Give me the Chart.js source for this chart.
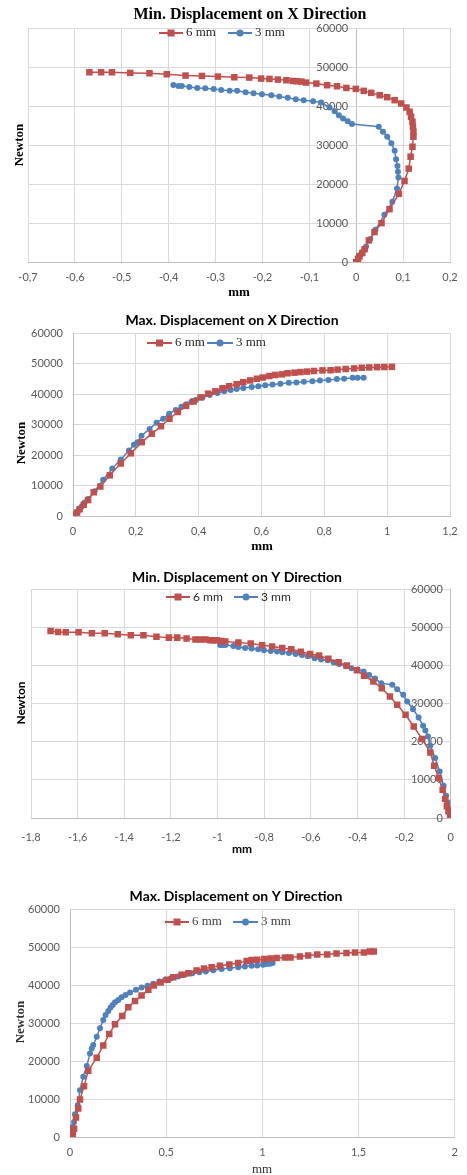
<!DOCTYPE html>
<html>
<head>
<meta charset="utf-8">
<script src="https://cdn.jsdelivr.net/npm/chart.js@4.4.0/dist/chart.umd.min.js"></script>
<style>
  html, body { margin: 0; padding: 0; background: #fff; }
  body { width: 467px; height: 1175px; position: relative; overflow: hidden; }
  .box { position: absolute; left: 0; width: 467px; }
</style>
</head>
<body>
<div class="box" style="top:0;height:300px"><canvas id="c1"></canvas></div>
<div class="box" style="top:300px;height:270px"><canvas id="c2"></canvas></div>
<div class="box" style="top:570px;height:300px"><canvas id="c3"></canvas></div>
<div class="box" style="top:870px;height:305px"><canvas id="c4"></canvas></div>
<script>
/* ===== DATA (mm , Newton) ===== */
const seriesLabels = ["6 mm", "3 mm"];
const forceTicks = [0, 10000, 20000, 30000, 40000, 50000, 60000];

// Min. displacement X
const minX_ticks = [-0.7, -0.6, -0.5, -0.4, -0.3, -0.2, -0.1, 0, 0.1, 0.2];
const minX_6_mm = [0, 0.004, 0.007, 0.013, 0.018, 0.027, 0.039, 0.054, 0.071, 0.091, 0.103, 0.112, 0.116, 0.120, 0.122, 0.122, 0.121, 0.120, 0.117, 0.114, 0.107, 0.096, 0.082, 0.066, 0.050, 0.032, 0.016, -0.001, -0.021, -0.041, -0.062, -0.085, -0.107, -0.117, -0.127, -0.135, -0.149, -0.167, -0.185, -0.203, -0.228, -0.260, -0.295, -0.329, -0.364, -0.404, -0.441, -0.482, -0.521, -0.544, -0.569];
const minX_6_N = [0, 800, 1450, 2300, 3300, 5540, 7670, 9970, 13550, 17470, 20790, 23940, 27000, 29560, 32120, 33400, 34680, 35950, 37230, 38510, 39620, 40640, 41490, 42260, 42770, 43370, 43880, 44390, 44640, 45070, 45330, 45750, 46010, 46260, 46350, 46430, 46600, 46770, 46940, 47030, 47290, 47370, 47540, 47710, 47800, 48140, 48390, 48480, 48650, 48650, 48650];
const minX_3_mm = [0.003, 0.006, 0.009, 0.013, 0.018, 0.021, 0.030, 0.041, 0.060, 0.077, 0.087, 0.090, 0.089, 0.088, 0.085, 0.082, 0.075, 0.066, 0.057, 0.048, -0.009, -0.018, -0.028, -0.037, -0.046, -0.057, -0.075, -0.092, -0.112, -0.129, -0.146, -0.164, -0.181, -0.201, -0.219, -0.236, -0.254, -0.270, -0.288, -0.304, -0.322, -0.339, -0.356, -0.372, -0.379, -0.390];
const minX_3_N = [500, 1450, 1870, 2470, 3320, 4000, 5880, 8260, 12100, 15420, 18830, 21640, 23170, 24620, 26330, 28540, 30420, 32120, 33400, 34680, 35360, 36120, 36810, 37660, 38680, 39620, 40900, 41240, 41490, 41750, 42090, 42430, 42770, 43030, 43280, 43540, 43880, 43880, 44130, 44390, 44560, 44640, 44900, 45160, 45160, 45410];

// Max. displacement X
const maxX_ticks = [0, 0.2, 0.4, 0.6, 0.8, 1, 1.2];
const maxX_6_mm = [0, 0.005, 0.013, 0.021, 0.034, 0.048, 0.066, 0.087, 0.117, 0.152, 0.184, 0.219, 0.251, 0.280, 0.307, 0.334, 0.360, 0.384, 0.406, 0.430, 0.453, 0.476, 0.497, 0.521, 0.542, 0.564, 0.585, 0.604, 0.625, 0.644, 0.665, 0.683, 0.705, 0.724, 0.745, 0.767, 0.794, 0.820, 0.842, 0.868, 0.895, 0.919, 0.943, 0.968, 0.991, 1.015];
const maxX_6_N = [0, 560, 1110, 2220, 3670, 5220, 7780, 9670, 13330, 17220, 20550, 24220, 27000, 29440, 31890, 34110, 36110, 37550, 38890, 40110, 40890, 41880, 42550, 43220, 43880, 44440, 45000, 45400, 45900, 46250, 46450, 46800, 47000, 47200, 47350, 47550, 47750, 47800, 48000, 48200, 48400, 48600, 48700, 48800, 48850, 48900];
const maxX_3_mm = [0.011, 0.019, 0.027, 0.037, 0.048, 0.069, 0.096, 0.125, 0.152, 0.178, 0.194, 0.205, 0.218, 0.244, 0.266, 0.287, 0.306, 0.327, 0.345, 0.361, 0.377, 0.391, 0.412, 0.435, 0.460, 0.481, 0.502, 0.521, 0.542, 0.569, 0.590, 0.612, 0.635, 0.660, 0.687, 0.711, 0.735, 0.762, 0.786, 0.813, 0.840, 0.863, 0.890, 0.906, 0.925];
const maxX_3_N = [1110, 2000, 3000, 4440, 5560, 8110, 11890, 15560, 18560, 21440, 23330, 24220, 26330, 28560, 30560, 31890, 33560, 34780, 35780, 36660, 37440, 38000, 38890, 39660, 40330, 40880, 41330, 41660, 42000, 42330, 42550, 42880, 43110, 43330, 43660, 43770, 44000, 44220, 44440, 44550, 44880, 45000, 45330, 45330, 45330];

// Min. displacement Y
const minY_ticks = [-1.8, -1.6, -1.4, -1.2, -1, -0.8, -0.6, -0.4, -0.2, 0];
const minY_6_mm = [-1.716, -1.684, -1.651, -1.596, -1.539, -1.484, -1.428, -1.372, -1.318, -1.262, -1.209, -1.173, -1.133, -1.095, -1.074, -1.052, -1.031, -1.017, -1.003, -0.984, -0.967, -0.911, -0.858, -0.809, -0.766, -0.723, -0.684, -0.643, -0.603, -0.565, -0.525, -0.481, -0.446, -0.403, -0.372, -0.332, -0.296, -0.261, -0.230, -0.194, -0.159, -0.123, -0.088, -0.071, -0.052, -0.035, -0.024, -0.017, -0.010, -0.003, 0.001];
const minY_6_N = [49010, 48740, 48660, 48660, 48400, 48400, 48130, 47870, 47870, 47520, 47260, 47260, 47000, 46740, 46740, 46740, 46560, 46560, 46560, 46390, 46220, 45950, 45690, 45260, 44910, 44560, 44210, 43550, 42950, 42550, 41720, 40810, 39980, 38720, 37270, 35750, 34010, 31830, 29650, 27030, 23980, 20670, 17180, 13690, 10460, 7410, 4970, 3050, 1740, 870, 440];
const minY_3_mm = [-0.989, -0.979, -0.967, -0.932, -0.911, -0.882, -0.854, -0.826, -0.801, -0.772, -0.745, -0.722, -0.694, -0.665, -0.638, -0.613, -0.584, -0.556, -0.528, -0.502, -0.478, -0.450, -0.426, -0.400, -0.374, -0.350, -0.325, -0.298, -0.251, -0.230, -0.204, -0.187, -0.162, -0.138, -0.119, -0.109, -0.098, -0.088, -0.067, -0.048, -0.031, -0.020, -0.014, -0.009, -0.003, 0];
const minY_3_N = [45340, 45340, 45340, 45080, 44820, 44560, 44380, 44210, 43950, 43770, 43600, 43430, 43250, 42990, 42730, 42380, 41860, 41510, 41330, 40720, 40370, 39760, 39240, 38890, 38370, 37500, 36540, 35320, 34880, 33750, 32260, 30520, 28510, 26330, 24150, 22930, 21360, 18920, 15700, 12210, 8460, 5840, 4100, 2620, 1740, 1310];

// Max. displacement Y
const maxY_ticks = [0, 0.5, 1, 1.5, 2];
const maxY_6_mm = [0.003, 0.014, 0.021, 0.031, 0.043, 0.052, 0.073, 0.095, 0.139, 0.173, 0.204, 0.234, 0.272, 0.303, 0.338, 0.372, 0.407, 0.436, 0.471, 0.507, 0.537, 0.580, 0.615, 0.658, 0.696, 0.736, 0.779, 0.828, 0.874, 0.918, 0.944, 0.973, 1.010, 1.042, 1.074, 1.117, 1.146, 1.195, 1.238, 1.285, 1.337, 1.385, 1.437, 1.481, 1.527, 1.558, 1.579];
const maxY_6_N = [300, 880, 2200, 5100, 7480, 9860, 13380, 17420, 20860, 24110, 27100, 29660, 31860, 34140, 35820, 37220, 38720, 39860, 40660, 41360, 42060, 42680, 43120, 43820, 44350, 44700, 45060, 45410, 45760, 46290, 46550, 46640, 46820, 46990, 47080, 47260, 47260, 47520, 47780, 48050, 48050, 48310, 48400, 48580, 48580, 48840, 48840];
const maxY_3_mm = [0.003, 0.005, 0.012, 0.021, 0.026, 0.040, 0.052, 0.069, 0.087, 0.104, 0.113, 0.121, 0.139, 0.156, 0.173, 0.185, 0.199, 0.211, 0.222, 0.234, 0.251, 0.268, 0.289, 0.312, 0.343, 0.372, 0.403, 0.433, 0.464, 0.494, 0.525, 0.563, 0.597, 0.636, 0.672, 0.706, 0.745, 0.788, 0.831, 0.874, 0.909, 0.944, 0.973, 1.004, 1.022, 1.039, 1.053];
const maxY_3_N = [500, 1320, 2640, 3960, 5980, 8360, 12320, 15840, 18660, 22000, 23320, 24200, 26400, 28600, 30800, 32120, 33180, 34060, 34760, 35460, 36080, 36780, 37400, 38020, 38720, 39340, 39780, 40300, 40920, 41360, 41800, 42240, 42680, 43120, 43380, 43560, 43870, 44180, 44440, 44700, 44880, 45060, 45140, 45320, 45500, 45580, 45760];

/* ===== HELPERS ===== */
const RED = "#C0504D";
const BLUE = "#4F81BD";
const SERIF = "'Liberation Serif', serif";
const SANS = "Lato, 'Liberation Sans', sans-serif";

const pts = (xs, ys) => xs.map((x, i) => ({ x, y: ys[i] }));
const fmt = v => {
  const s = String(Math.round(v * 100) / 100);
  return (s === "-0" ? "0" : s).replace(".", ",");
};

// titles, legend and axis names drawn on top of the chart
const textPlugin = {
  id: "texts",
  afterDraw(chart, args, o) {
    const ctx = chart.ctx;
    ctx.save();
    ctx.textBaseline = "middle";
    (o.items || []).forEach(t => {
      ctx.save();
      ctx.font = t.font;
      ctx.fillStyle = t.color || "#000";
      ctx.textAlign = "center";
      ctx.translate(t.x, t.y);
      if (t.rot) ctx.rotate(t.rot);
      ctx.fillText(t.text, 0, 0);
      ctx.restore();
    });
    const lg = o.legend;
    if (lg) {
      chart.data.datasets.forEach((ds, i) => {
        const it = lg.items[i];
        ctx.strokeStyle = ds.borderColor;
        ctx.lineWidth = 2;
        ctx.beginPath();
        ctx.moveTo(it.x0, lg.y);
        ctx.lineTo(it.x1, lg.y);
        ctx.stroke();
        ctx.fillStyle = ds.backgroundColor;
        const m = (it.x0 + it.x1) / 2;
        ctx.beginPath();
        if (ds.pointStyle === "rect") ctx.rect(m - 3.5, lg.y - 3.5, 7, 7);
        else ctx.arc(m, lg.y, 3.5, 0, Math.PI * 2);
        ctx.fill();
        ctx.font = lg.font;
        ctx.fillStyle = lg.color || "#262626";
        ctx.textAlign = "left";
        ctx.fillText(ds.label, it.x1 + 3, lg.y);
      });
    }
    ctx.restore();
  }
};

function makeChart(id, o) {
  const xh = 30;
  const a = o.area;
  const tickFont = { family: SANS, size: 11 };
  const inner = !o.yLeft; // value axis crosses at x = 0
  return new Chart(document.getElementById(id), {
    type: "scatter",
    plugins: [textPlugin],
    data: {
      datasets: [
        { label: seriesLabels[0], data: pts(o.red[0], o.red[1]), showLine: true,
          borderColor: RED, backgroundColor: RED, borderWidth: 1.5,
          pointStyle: "rect", pointRadius: 4.6, pointBorderWidth: 0 },
        { label: seriesLabels[1], data: pts(o.blue[0], o.blue[1]), showLine: true,
          borderColor: BLUE, backgroundColor: BLUE, borderWidth: 1.5,
          pointStyle: "circle", pointRadius: 3, pointBorderWidth: 0 }
      ]
    },
    options: {
      responsive: true,
      maintainAspectRatio: false,
      animation: false,
      layout: {
        padding: { left: o.yLeft ? 0 : a.l, top: a.t, right: 467 - a.r, bottom: o.height - a.b - xh }
      },
      plugins: {
        legend: { display: false },
        tooltip: { enabled: false },
        texts: o.texts
      },
      scales: {
        x: {
          type: "linear",
          position: "bottom",
          min: o.xTicks[0],
          max: o.xTicks[o.xTicks.length - 1],
          afterFit: s => { s.height = xh; },
          afterBuildTicks: s => { s.ticks = o.xTicks.map(v => ({ value: v })); },
          grid: {
            drawTicks: false,
            color: c => (inner && c.tick && c.tick.value === 0 ? "#bfbfbf" : "#d9d9d9")
          },
          border: { color: "#bfbfbf" },
          ticks: { font: tickFont, color: "#595959", padding: o.xPad, maxRotation: 0, callback: fmt }
        },
        y: {
          type: "linear",
          position: o.yLeft ? "left" : { x: o.yAt },
          min: 0,
          max: 60000,
          afterFit: s => { if (o.yLeft) s.width = a.l; },
          afterBuildTicks: s => { s.ticks = forceTicks.map(v => ({ value: v })); },
          grid: { color: "#d9d9d9", drawTicks: false },
          border: { display: !inner, color: "#bfbfbf" },
          ticks: { font: tickFont, color: "#595959", padding: 10, callback: v => String(v) }
        }
      }
    }
  });
}

/* ===== CHARTS ===== */
makeChart("c1", {
  height: 300, area: { l: 28, t: 28, r: 450, b: 262 }, xPad: 9, yAt: -0.017,
  xTicks: minX_ticks, red: [minX_6_mm, minX_6_N], blue: [minX_3_mm, minX_3_N],
  texts: {
    items: [
      { text: "Min. Displacement on X Direction", x: 250, y: 15, font: "bold 16px " + SERIF },
      { text: "mm", x: 239, y: 293, font: "bold 13px " + SERIF },
      { text: "Newton", x: 20, y: 145, rot: -Math.PI / 2, font: "bold 13px " + SERIF }
    ],
    legend: { y: 33, font: "13px " + SERIF, items: [{ x0: 159, x1: 183 }, { x0: 228, x1: 252 }] }
  }
});

makeChart("c2", {
  height: 270, area: { l: 73, t: 33, r: 450, b: 216 }, xPad: 9, yLeft: true,
  xTicks: maxX_ticks, red: [maxX_6_mm, maxX_6_N], blue: [maxX_3_mm, maxX_3_N],
  texts: {
    items: [
      { text: "Max. Displacement on X Direction", x: 232, y: 20, font: "bold 14px " + SANS },
      { text: "mm", x: 262, y: 247, font: "bold 13px " + SERIF },
      { text: "Newton", x: 22, y: 143, rot: -Math.PI / 2, font: "bold 13px " + SERIF }
    ],
    legend: { y: 43, font: "13px " + SERIF, items: [{ x0: 147, x1: 172 }, { x0: 207, x1: 233 }] }
  }
});

makeChart("c3", {
  height: 300, area: { l: 31, t: 19, r: 454, b: 248 }, xPad: 13, yAt: -0.034,
  xTicks: minY_ticks, red: [minY_6_mm, minY_6_N], blue: [minY_3_mm, minY_3_N],
  texts: {
    items: [
      { text: "Min. Displacement on Y Direction", x: 237, y: 7, font: "bold 14px " + SANS },
      { text: "mm", x: 242, y: 279, font: "bold 12px " + SANS },
      { text: "Newton", x: 21, y: 133, rot: -Math.PI / 2, font: "bold 12px " + SANS }
    ],
    legend: { y: 27, font: "12px " + SANS, items: [{ x0: 166, x1: 190 }, { x0: 234, x1: 258 }] }
  }
});

makeChart("c4", {
  height: 305, area: { l: 70, t: 39, r: 455, b: 267 }, xPad: 9, yLeft: true,
  xTicks: maxY_ticks, red: [maxY_6_mm, maxY_6_N], blue: [maxY_3_mm, maxY_3_N],
  texts: {
    items: [
      { text: "Max. Displacement on Y Direction", x: 236, y: 26, font: "bold 14px " + SANS },
      { text: "mm", x: 262, y: 300, font: "13px " + SERIF, color: "#333" },
      { text: "Newton", x: 21, y: 152, rot: -Math.PI / 2, font: "bold 13px " + SERIF, color: "#333" }
    ],
    legend: { y: 52, font: "13px " + SERIF, color: "#404040", items: [{ x0: 165, x1: 189 }, { x0: 233, x1: 258 }] }
  }
});
</script>
</body>
</html>
